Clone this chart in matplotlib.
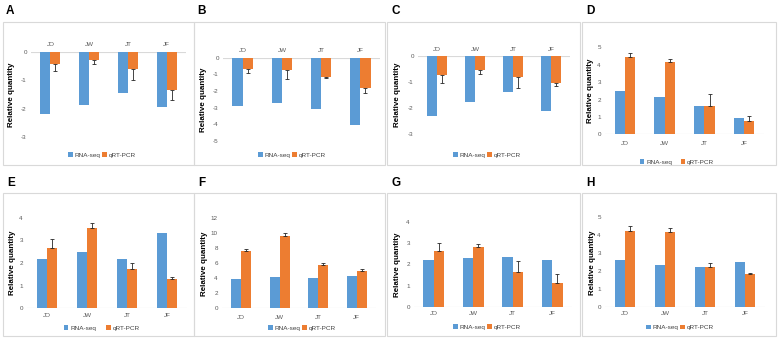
import matplotlib
matplotlib.use("Agg")
import matplotlib.pyplot as plt
import numpy as np
from matplotlib.patches import Patch, Rectangle

plt.rcParams['font.family'] = ['Liberation Sans', 'DejaVu Sans']
plt.rcParams['axes.unicode_minus'] = False

# data
categories = ['JO', 'JW', 'JT', 'JF']
series_names = ['RNA-seq', 'qRT-PCR']

rna_a = [-2.20, -1.86, -1.45, -1.94]
qpcr_a = [-0.41, -0.29, -0.59, -1.33]
err_a = [0.26, 0.15, 0.41, 0.38]

rna_b = [-2.90, -2.69, -3.08, -4.06]
qpcr_b = [-0.69, -0.73, -1.18, -1.82]
err_b = [0.23, 0.52, 0.06, 0.32]

rna_c = [-2.30, -1.78, -1.37, -2.10]
qpcr_c = [-0.74, -0.55, -0.81, -1.05]
err_c = [0.29, 0.15, 0.44, 0.09]

rna_d = [2.46, 2.15, 1.63, 0.94]
qpcr_d = [4.46, 4.17, 1.63, 0.77]
err_d = [0.21, 0.16, 0.66, 0.31]

rna_e = [2.16, 2.47, 2.18, 3.32]
qpcr_e = [2.66, 3.53, 1.72, 1.29]
err_e = [0.40, 0.22, 0.27, 0.11]

rna_f = [3.90, 4.13, 4.09, 4.31]
qpcr_f = [7.64, 9.64, 5.78, 4.98]
err_f = [0.26, 0.46, 0.31, 0.26]

rna_g = [2.20, 2.29, 2.35, 2.20]
qpcr_g = [2.64, 2.81, 1.66, 1.12]
err_g = [0.36, 0.14, 0.52, 0.44]

rna_h = [2.65, 2.35, 2.24, 2.54]
qpcr_h = [4.26, 4.19, 2.26, 1.83]
err_h = [0.24, 0.24, 0.20, 0.10]

BLUE = '#5B9BD5'
ORANGE = '#ED7D31'
GREY_TXT = '#595959'
W, H = 778, 338

fig = plt.figure(figsize=(W / 100, H / 100), dpi=100)
fig.patch.set_facecolor('white')


def fx(x):
    return x / W


def fy(y):
    return 1 - y / H


# layout in pixels: box (x0, y0, x1, y1), letter pos, plot (x0, x1, ytop, ybot),
# ylim, step, label pad (px), legend centre, ylabel x, legend column spacing
panels = [
    dict(letter='A', rna=rna_a, qpcr=qpcr_a, err=err_a, box=(3, 22, 194, 165), let=(6, 11),
         plot=(31, 186, 52, 137), ylim=(-3, 0), step=1, xpad=7, leg=(102, 155), ylx=12, cs=0.3),
    dict(letter='B', rna=rna_b, qpcr=qpcr_b, err=err_b, box=(194, 22, 385, 165), let=(197, 11),
         plot=(223, 380, 57.7, 141), ylim=(-5, 0), step=1, xpad=7, leg=(292, 155), ylx=203, cs=0.3),
    dict(letter='C', rna=rna_c, qpcr=qpcr_c, err=err_c, box=(387, 22, 580, 165), let=(392, 11),
         plot=(418, 570, 55.7, 134.3), ylim=(-3, 0), step=1, xpad=6, leg=(487, 155), ylx=398, cs=0.3),
    dict(letter='D', rna=rna_d, qpcr=qpcr_d, err=err_d, box=(582, 22, 776, 165), let=(586, 11),
         plot=(605, 764, 47.3, 134.3), ylim=(0, 5), step=1, xpad=9.5, leg=(677, 162), ylx=590, cs=1.4),
    dict(letter='E', rna=rna_e, qpcr=qpcr_e, err=err_e, box=(3, 193, 194, 336), let=(7, 182.5),
         plot=(27, 187, 217.7, 308.3), ylim=(0, 4), step=1, xpad=7, leg=(102, 328), ylx=13, cs=1.6),
    dict(letter='F', rna=rna_f, qpcr=qpcr_f, err=err_f, box=(194, 193, 385, 336), let=(198, 182.5),
         plot=(222, 376, 218.3, 308.3), ylim=(0, 12), step=2, xpad=9.5, leg=(302, 328), ylx=205, cs=0.3),
    dict(letter='G', rna=rna_g, qpcr=qpcr_g, err=err_g, box=(387, 193, 580, 336), let=(392, 182.5),
         plot=(414, 572, 222.3, 306.7), ylim=(0, 4), step=1, xpad=7, leg=(487, 327), ylx=398, cs=0.3),
    dict(letter='H', rna=rna_h, qpcr=qpcr_h, err=err_h, box=(582, 193, 776, 336), let=(586, 182.5),
         plot=(605, 765, 217.3, 307.3), ylim=(0, 5), step=1, xpad=6.5, leg=(680, 327.5), ylx=592, cs=0.3),
]

bw = 0.26
x = np.arange(len(categories))

for p in panels:
    bx0, by0, bx1, by1 = p['box']
    fig.add_artist(Rectangle((fx(bx0), fy(by1)), (bx1 - bx0) / W, (by1 - by0) / H,
                             transform=fig.transFigure, fill=False,
                             edgecolor='#d9d9d9', lw=0.8))
    fig.text(fx(p['let'][0]), fy(p['let'][1]), p['letter'], fontsize=8.5,
             fontweight='bold', va='center', ha='left')

    px0, px1, pyt, pyb = p['plot']
    ax = fig.add_axes([fx(px0), fy(pyb), (px1 - px0) / W, (pyb - pyt) / H])
    ax.set_xlim(-0.5, len(categories) - 0.5)
    ax.set_ylim(*p['ylim'])
    negative = p['ylim'][1] == 0

    ax.bar(x - bw / 2, p['rna'], bw, color=BLUE, zorder=2)
    ax.bar(x + bw / 2, p['qpcr'], bw, color=ORANGE, zorder=2)
    e = np.array(p['err'])
    z = np.zeros_like(e)
    yerr = [e, z] if negative else [z, e]
    ax.errorbar(x + bw / 2, p['qpcr'], yerr=yerr, fmt='none', ecolor='#262626',
                elinewidth=0.6, capsize=1.4, capthick=0.6, zorder=3)

    ax.axhline(0, color='#d9d9d9', lw=0.8, zorder=1)
    for s in ax.spines.values():
        s.set_visible(False)

    ax.set_yticks(np.arange(p['ylim'][0], p['ylim'][1] + 0.01, p['step']))
    ax.set_xticks(x)
    ax.set_xticklabels(categories)
    if negative:
        ax.xaxis.tick_top()
    ax.tick_params(axis='both', length=0, labelsize=4.5, colors=GREY_TXT)
    ax.tick_params(axis='x', pad=p['xpad'] * 0.72 - 1.8)
    ax.tick_params(axis='y', pad=3)

    fig.text(fx(p['ylx']), fy((pyt + pyb) / 2), 'Relative quantity', rotation=90,
             fontsize=5.8, fontweight='bold', ha='center', va='center', color='black')

    handles = [Patch(facecolor=BLUE), Patch(facecolor=ORANGE)]
    leg = fig.legend(handles, series_names, ncol=2, fontsize=4.6, frameon=False,
                     handlelength=0.7, handleheight=0.7, handletextpad=0.3,
                     columnspacing=p['cs'], loc='center',
                     bbox_to_anchor=(fx(p['leg'][0]), fy(p['leg'][1])),
                     bbox_transform=fig.transFigure, borderpad=0)
    for t in leg.get_texts():
        t.set_color('#404040')

fig.savefig('out.png', dpi=100, facecolor='white')
